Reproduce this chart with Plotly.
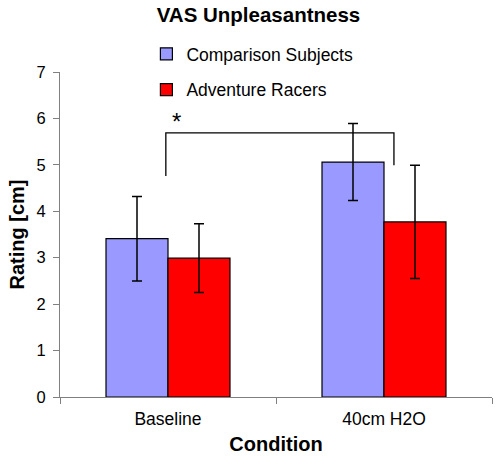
import plotly.graph_objects as go

categories = ["Baseline", "40cm H2O"]
comparison_vals = [3.41, 5.06]
comparison_err = [0.91, 0.83]
racers_vals = [2.99, 3.77]
racers_err = [0.74, 1.22]
series_names = ["Comparison Subjects", "Adventure Racers"]

FONT = "Arial, Liberation Sans, sans-serif"

fig = go.Figure()
fig.add_trace(go.Bar(
    x=categories, y=comparison_vals, name=series_names[0], legendgroup="a",
    marker=dict(color="#9999ff", line=dict(color="black", width=1.2)),
    error_y=dict(type="data", array=comparison_err, color="black", thickness=1.5, width=5),
))
fig.add_trace(go.Bar(
    x=categories, y=racers_vals, name=series_names[1], legendgroup="b",
    marker=dict(color="#ff0000", line=dict(color="black", width=1.2)),
    error_y=dict(type="data", array=racers_err, color="black", thickness=1.5, width=5),
))

# significance bracket
fig.add_shape(type="path", path="M -0.01 4.76 L -0.01 5.69 L 1.046 5.69 L 1.046 4.99",
              xref="x", yref="y", line=dict(color="black", width=1.3))
fig.add_annotation(x=0.04, y=5.93, xref="x", yref="y", text="*", showarrow=False,
                   font=dict(family=FONT, size=24, color="black"))

fig.update_layout(
    width=498, height=465,
    margin=dict(l=60, r=6, t=72, b=68, autoexpand=False),
    paper_bgcolor="white", plot_bgcolor="white",
    barmode="group", bargap=0.426, bargroupgap=0,
    font=dict(family=FONT, color="black"),
    title=dict(text="<b>VAS Unpleasantness</b>", x=0.519, xanchor="center",
               y=0.968, yanchor="middle", font=dict(size=20.5)),
    legend=dict(x=0.2, y=1.111, xanchor="left", yanchor="top", traceorder="grouped",
                tracegroupgap=10, font=dict(size=17.5), bgcolor="rgba(0,0,0,0)",
                itemwidth=30),
    showlegend=True,
)
fig.update_xaxes(
    showline=True, linecolor="#808080", linewidth=1, automargin=False,
    ticks="outside", tickson="boundaries", ticklen=6, tickcolor="#808080",
    tickfont=dict(size=17.5), ticklabelstandoff=6,
    title=dict(text="<b>Condition</b>", font=dict(size=20), standoff=8),
)
fig.update_yaxes(
    range=[0, 7], dtick=1, showline=True, linecolor="#808080", linewidth=1, automargin=False,
    ticks="outside", ticklen=6, tickcolor="#808080", showgrid=False, zeroline=False,
    tickfont=dict(size=16.5), ticklabelstandoff=4,
    title=dict(text="<b>Rating [cm]</b>", font=dict(size=20), standoff=6),
)

# remove the page's default body margin so the figure fills the window exactly
fig.write_html("out.html", config={"displayModeBar": False},
               post_script="document.body.style.margin='0';")
